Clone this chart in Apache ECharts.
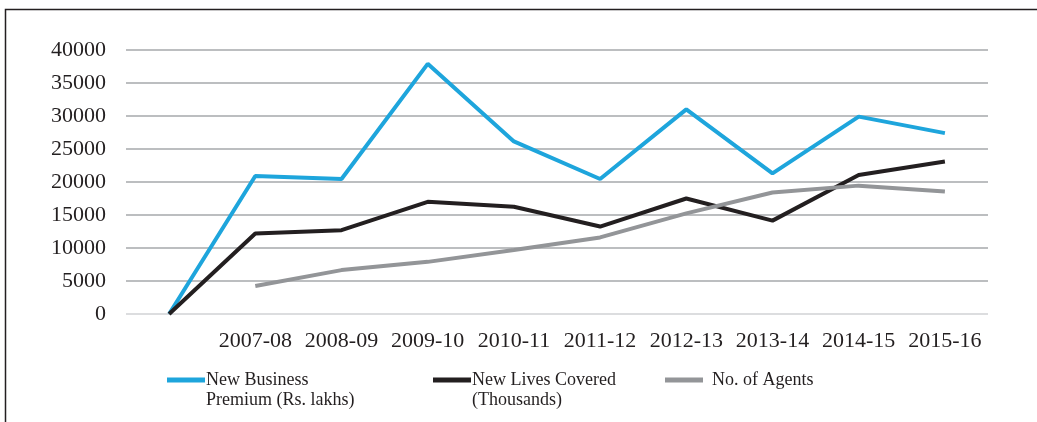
<!DOCTYPE html>
<html>
<head>
<meta charset="utf-8">
<script src="https://cdn.jsdelivr.net/npm/echarts@6/dist/echarts.min.js"></script>
<style>
  html, body { margin: 0; padding: 0; background: #fff; }
  #chart { width: 1037px; height: 422px; }
</style>
</head>
<body>
<div id="chart"></div>
<script>
// categories (first slot is the blank origin point)
var years = ['', '2007-08', '2008-09', '2009-10', '2010-11', '2011-12', '2012-13', '2013-14', '2014-15', '2015-16'];
var premium = [0, 20900, 20450, 37900, 26150, 20450, 31000, 21300, 29900, 27400];
var lives = [0, 12200, 12700, 17000, 16250, 13250, 17500, 14150, 21050, 23100];
var agents = [null, 4250, 6650, 7900, 9700, 11600, 15250, 18400, 19450, 18550];
var yTicks = [0, 5000, 10000, 15000, 20000, 25000, 30000, 35000, 40000];

var names = ['New Business Premium (Rs. lakhs)', 'New Lives Covered (Thousands)', 'No. of Agents'];
var colors = ['#1ea5dc', '#231f20', '#939598'];

var chart = echarts.init(document.getElementById('chart'));
var font = 'Liberation Serif, Times New Roman, serif';

function legendFor(i, left, top, label, padLeft) {
  return {
    left: left,
    top: top,
    padding: 0,
    icon: 'rect',
    itemWidth: 38,
    itemHeight: 5,
    selectedMode: false,
    data: [{
      name: names[i],
      textStyle: {
        fontFamily: font,
        fontSize: 18,
        lineHeight: 20,
        color: '#231f20',
        padding: [0, 0, 0, padLeft],
        rich: {
          e: { lineHeight: 20, fontSize: 18 },
          a: { lineHeight: 20, fontSize: 18, fontFamily: font, color: '#231f20' }
        }
      }
    }],
    formatter: function() { return label; }
  };
}

var option = {
  animation: false,
  grid: {
    left: 126,
    right: 49,
    top: 50,
    bottom: 108
  },
  xAxis: {
    type: 'category',
    data: years,
    boundaryGap: true,
    axisLine: { show: false },
    axisTick: { show: false },
    axisLabel: {
      interval: 0,
      margin: 16,
      fontFamily: font,
      fontSize: 22,
      color: '#231f20'
    }
  },
  yAxis: {
    type: 'value',
    min: yTicks[0],
    max: yTicks[yTicks.length - 1],
    interval: 5000,
    axisLine: { show: false },
    axisTick: { show: false },
    axisLabel: {
      margin: 20,
      fontFamily: font,
      fontSize: 22,
      color: '#231f20',
      formatter: function(v) { return String(v); }
    },
    splitLine: {
      lineStyle: {
        color: ['#dcdddf', '#bcbec0', '#bcbec0', '#bcbec0', '#bcbec0', '#bcbec0', '#bcbec0', '#bcbec0', '#bcbec0'],
        width: 2
      }
    }
  },
  legend: [
    legendFor(0, 167, 350, '{e| }\n{a|New Business}\n{a|Premium (Rs. lakhs)}', -4),
    legendFor(1, 433, 350, '{e| }\n{a|New Lives Covered}\n{a|(Thousands)}', -4),
    legendFor(2, 665, 370, '{a|No. of Agents}', 4)
  ],
  graphic: [{
    type: 'polyline',
    shape: { points: [[5.5, 422], [5.5, 9.5], [1037, 9.5]] },
    style: { stroke: '#231f20', lineWidth: 1.5, fill: null }
  }],
  series: [{
    name: names[0],
    type: 'line',
    data: premium,
    symbol: 'none',
    lineStyle: { color: colors[0], width: 4 },
    itemStyle: { color: colors[0] }
  }, {
    name: names[1],
    type: 'line',
    data: lives,
    symbol: 'none',
    lineStyle: { color: colors[1], width: 4 },
    itemStyle: { color: colors[1] }
  }, {
    name: names[2],
    type: 'line',
    data: agents,
    symbol: 'none',
    lineStyle: { color: colors[2], width: 4 },
    itemStyle: { color: colors[2] }
  }]
};

chart.setOption(option);
</script>
</body>
</html>
